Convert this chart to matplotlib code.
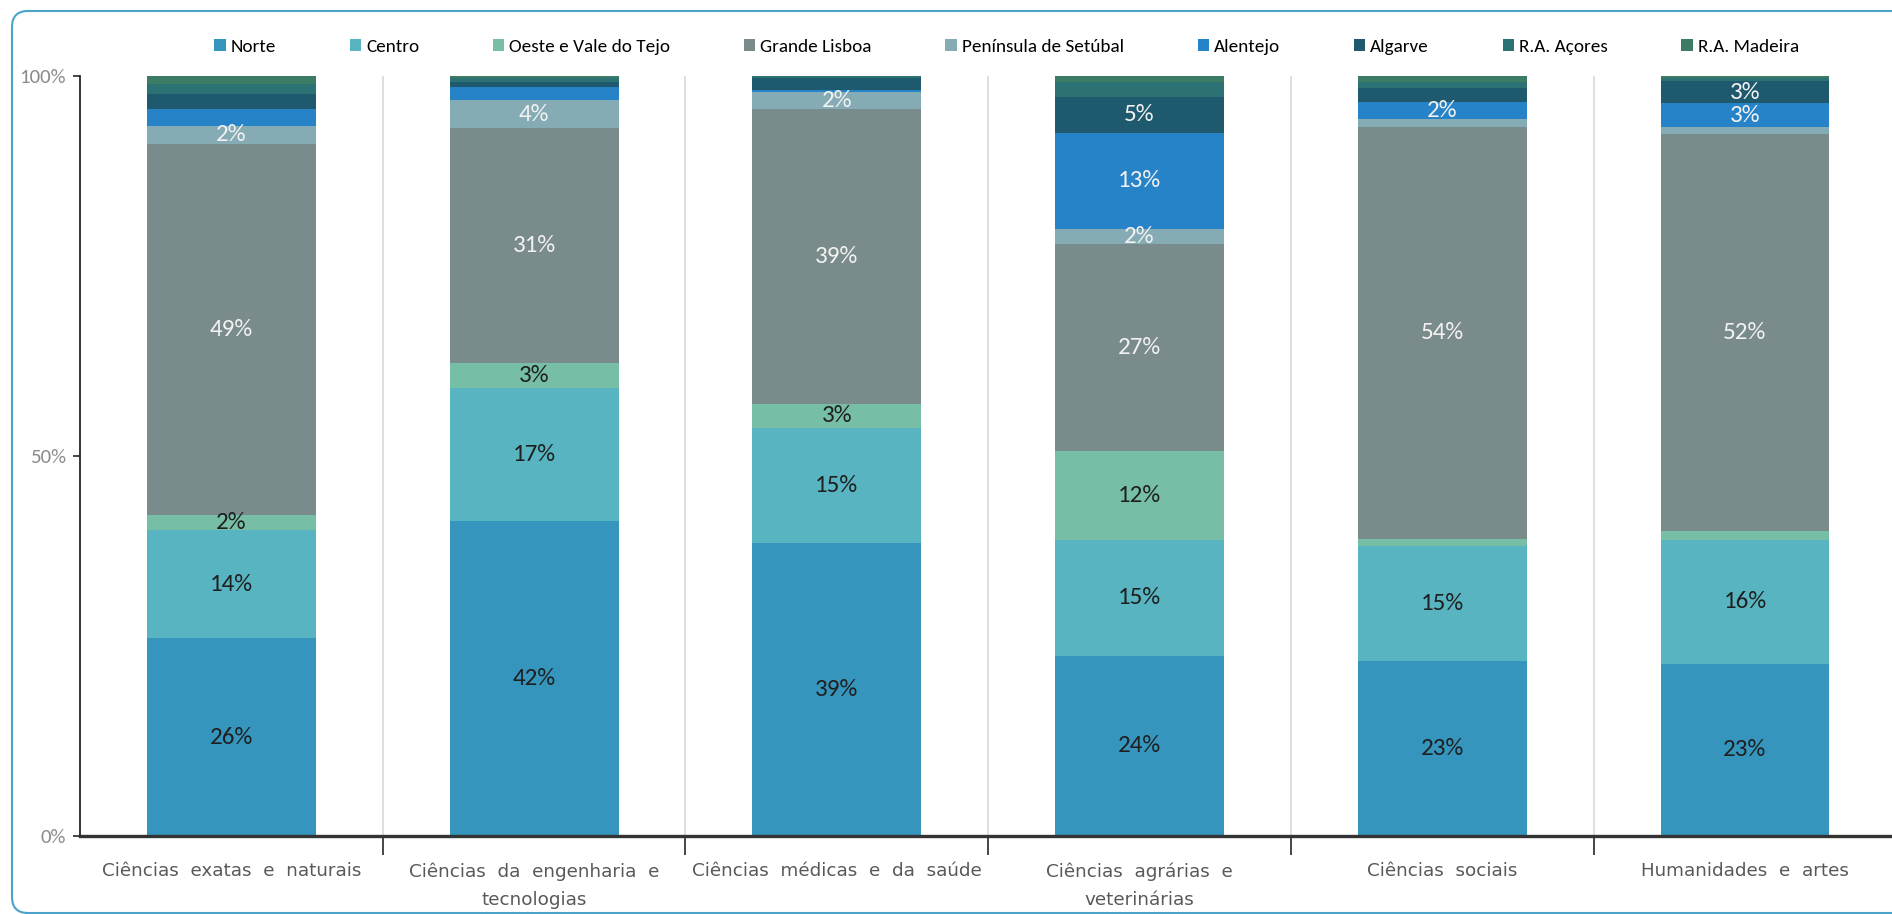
import matplotlib
matplotlib.use("Agg")
import matplotlib.pyplot as plt
import numpy as np
from matplotlib import font_manager
from matplotlib.patches import FancyBboxPatch, Patch
from matplotlib.transforms import IdentityTransform

# Áreas científicas (eixo x)
categorias = [
    "Ciências  exatas  e  naturais",
    "Ciências  da  engenharia  e\ntecnologias",
    "Ciências  médicas  e  da  saúde",
    "Ciências  agrárias  e\nveterinárias",
    "Ciências  sociais",
    "Humanidades  e  artes",
]

regioes = [
    "Norte", "Centro", "Oeste e Vale do Tejo", "Grande Lisboa",
    "Península de Setúbal", "Alentejo", "Algarve", "R.A. Açores", "R.A. Madeira",
]

# quotas (%) por região, uma lista por região
norte = [26.0, 41.4, 38.6, 23.7, 23.0, 22.7]
centro = [14.3, 17.5, 15.1, 15.3, 15.1, 16.2]
oeste = [2.0, 3.3, 3.2, 11.6, 1.0, 1.3]
grande_lisboa = [48.8, 30.9, 38.8, 27.3, 54.2, 52.2]
peninsula = [2.3, 3.8, 2.15, 2.0, 1.05, 0.9]
alentejo = [2.2, 1.6, 0.35, 12.6, 2.2, 3.1]
algarve = [2.0, 0.7, 1.5, 4.8, 1.9, 3.0]
acores = [1.4, 0.5, 0.25, 1.9, 0.8, 0.4]
madeira = [1.0, 0.4, 0.2, 1.0, 0.8, 0.3]

# rótulos visíveis no gráfico ("" = sem rótulo)
rot_norte = ["26%", "42%", "39%", "24%", "23%", "23%"]
rot_centro = ["14%", "17%", "15%", "15%", "15%", "16%"]
rot_oeste = ["2%", "3%", "3%", "12%", "", ""]
rot_lisboa = ["49%", "31%", "39%", "27%", "54%", "52%"]
rot_peninsula = ["2%", "4%", "2%", "2%", "", ""]
rot_alentejo = ["", "", "", "13%", "2%", "3%"]
rot_algarve = ["", "", "", "5%", "", "3%"]
rot_acores = ["", "", "", "", "", ""]
rot_madeira = ["", "", "", "", "", ""]

series = [norte, centro, oeste, grande_lisboa, peninsula, alentejo, algarve, acores, madeira]
rotulos = [rot_norte, rot_centro, rot_oeste, rot_lisboa, rot_peninsula,
           rot_alentejo, rot_algarve, rot_acores, rot_madeira]
cores = ["#3595BD", "#57B4C0", "#76BFA6", "#7A8B8C", "#85ACB5",
         "#2783C8", "#1F596E", "#2C7274", "#3C7C64"]
cor_rotulo = ["#1f1f1f", "#1f1f1f", "#1f1f1f", "#f2f2f2", "#f2f2f2",
              "#f2f2f2", "#f2f2f2", "#f2f2f2", "#f2f2f2"]

# fonte estreita tipo Calibri, se existir
instaladas = {f.name for f in font_manager.fontManager.ttflist}
estreita = next((n for n in ["Carlito", "Liberation Sans Narrow", "Roboto Condensed", "Lato"]
                 if n in instaladas), "DejaVu Sans")
NARROW = [estreita, "DejaVu Sans"]

fig = plt.figure(figsize=(18.92, 9.14), dpi=100)
ax = fig.add_axes([0.0423, 0.0853, 0.960, 0.8315])

x = np.arange(len(categorias))
base = np.zeros(len(categorias))
for vals, labs, cor, cl in zip(series, rotulos, cores, cor_rotulo):
    v = np.array(vals) / 100.0
    ax.bar(x, v, width=0.558, bottom=base, color=cor, zorder=3)
    for xi, b, h, t in zip(x, base, v, labs):
        if t:
            ax.text(xi, b + h / 2, t, ha="center", va="center", color=cl,
                    fontsize=18, family=NARROW, zorder=4)
    base = base + v

ax.set_xlim(-0.5, 5.5)
ax.set_ylim(0, 1)

# eixo y
ax.set_yticks([0, 0.5, 1.0])
ax.set_yticklabels(["0%", "50%", "100%"], family=NARROW, fontsize=15, color="#8c8c8c")
ax.tick_params(axis="y", length=5, width=1.2, color="#262626", pad=5)

# eixo x: rótulos no centro, marcas nos limites
ax.set_xticks(x)
ax.set_xticklabels(categorias, fontsize=13.2, color="#595959", linespacing=1.75)
ax.set_xticks(np.arange(0.5, 5.5, 1.0), minor=True)
ax.tick_params(axis="x", which="major", length=0, pad=19)
ax.tick_params(axis="x", which="minor", length=14, width=1.2, color="#262626")
ax.grid(axis="x", which="minor", color="#d9d9d9", linewidth=1.2, zorder=0)

for s in ["top", "right"]:
    ax.spines[s].set_visible(False)
ax.spines["left"].set_color("#262626")
ax.spines["left"].set_linewidth(1.3)
ax.spines["bottom"].set_color("#333333")
ax.spines["bottom"].set_linewidth(2.4)
ax.spines["bottom"].set_zorder(5)

# legenda
handles = [Patch(facecolor=c, edgecolor="none") for c in cores]
fig.legend(handles, regioes, loc="center", bbox_to_anchor=(0.532, 0.9486), ncol=9,
           frameon=False, prop={"family": NARROW, "size": 13.8},
           handlelength=0.6, handleheight=0.6, handletextpad=0.25, columnspacing=3.85)

# moldura arredondada
moldura = FancyBboxPatch((12, 1), 1990, 902, boxstyle="round,pad=0,rounding_size=16",
                         transform=IdentityTransform(), facecolor="none",
                         edgecolor="#4BA3C9", linewidth=1.5)
fig.add_artist(moldura)

fig.savefig("out.png", dpi=100)
